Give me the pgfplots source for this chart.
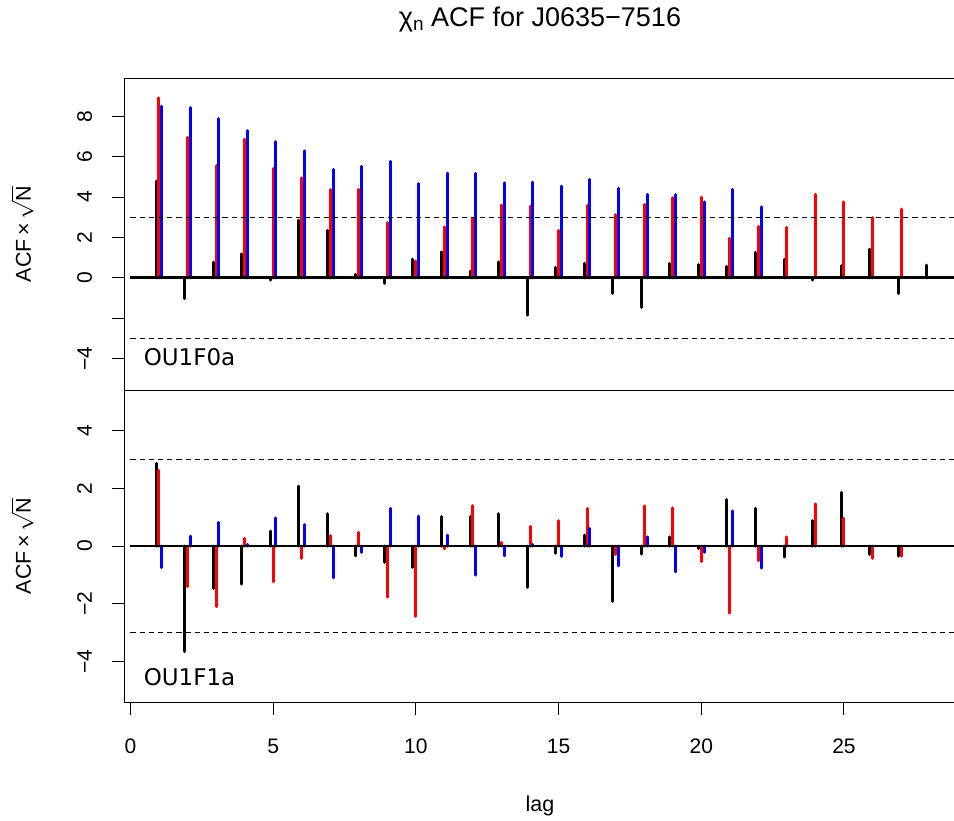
\documentclass[border=0pt]{standalone}
\usepackage{fontspec}
\setmainfont{Liberation Sans}
\newfontfamily\panelfont{DejaVu Sans}
\usepackage{pgfplots}
\pgfplotsset{compat=1.18}
\usepackage{pgfplotstable}

% ACF x sqrt(N) per lag: black, red and blue series for each model
\pgfplotstableread{
lag black red blue
1   4.80  8.93  8.52
2  -1.04  6.96  8.44
3   0.78  5.56  7.89
4   1.19  6.88  7.30
5  -0.12  5.43  6.75
6   2.86  4.95  6.30
7   2.35  4.37  5.38
8   0.17  4.38  5.53
9  -0.28  2.73  5.77
10  0.93  0.84  4.67
11  1.29  2.53  5.19
12  0.33  2.96  5.18
13  0.79  3.61  4.71
14 -1.85  3.56  4.75
15  0.51  2.35  4.55
16  0.71  3.59  4.88
17 -0.78  3.13  4.43
18 -1.47  3.64  4.14
19  0.71  3.97  4.12
20  0.65  4.00  3.77
21  0.56  1.97  4.38
22  1.26  2.55  3.52
23  0.91  2.50  nan
24 -0.12  4.14  nan
25  0.60  3.76  nan
26  1.42  2.98  nan
27 -0.79  3.41  nan
28  0.63  nan   nan
}\topdata

\pgfplotstableread{
lag black red blue
1   2.87  2.62 -0.75
2  -3.66 -1.41  0.34
3  -1.47 -2.10  0.82
4  -1.32  0.27  0.06
5   0.52 -1.24  0.98
6   2.08 -0.43  0.74
7   1.12  0.36 -1.10
8  -0.34  0.47 -0.22
9  -0.57 -1.77  1.31
10 -0.74 -2.44  1.04
11  1.02 -0.10  0.38
12  1.02  1.40 -1.01
13  1.12  0.13 -0.34
14 -1.43  0.68  0.06
15 -0.25  0.88 -0.36
16  0.38  1.31  0.61
17 -1.92 -0.30 -0.69
18 -0.28  1.39  0.32
19  0.32  1.32 -0.90
20 -0.09 -0.54 -0.22
21  1.61 -2.33  1.22
22  1.31 -0.51 -0.77
23 -0.38  0.32  nan
24  0.88  1.46  nan
25  1.86  0.97  nan
26 -0.29 -0.43  nan
27 -0.35 -0.35  nan
}\botdata

\pgfplotsset{
  acfpanel/.style={
    scale only axis, width=415pt, height=156pt,
    xmin=-0.19, xmax=28.89,
    clip=false,
    axis line style={line width=0.5pt},
    tick align=outside, ytick pos=left, xtick pos=left,
    major tick length=6.5pt,
    tick style={line width=0.5pt, black},
    yticklabel style={xshift=-10pt, rotate=90, anchor=base,
      font=\fontsize{10.5}{12}\selectfont},
    xticklabel style={anchor=base, yshift=-19pt,
      font=\fontsize{10.5}{12}\selectfont},
  },
  comb/.style={ycomb, no markers, line width=1.5pt, line cap=round},
  zeroline/.style={black, line width=1.4pt},
  bound/.style={black, line width=0.5pt, dash pattern=on 2.6pt off 2pt},
}
\tikzset{
  acflabel/.style={rotate=90, anchor=base, inner sep=0pt,
    font=\fontsize{10.75}{13}\selectfont},
}

\begin{document}
\begin{tikzpicture}
% upper panel
\begin{axis}[acfpanel, at={(0,0)}, anchor=south west,
  ymin=-5.57, ymax=9.91,
  xtick=\empty,
  ytick={-4,-2,0,2,4,6,8},
  yticklabels={−4,,0,2,4,6,8},
]
  \addplot[comb, black] table[x expr=\thisrow{lag}-0.1, y=black] {\topdata};
  \addplot[comb, red]   table[x=lag, y=red] {\topdata};
  \addplot[comb, blue]  table[x expr=\thisrow{lag}+0.1, y=blue] {\topdata};
  \addplot[zeroline] coordinates {(0,0) (28.89,0)};
  \addplot[bound] coordinates {(0,3) (28.89,3)};
  \addplot[bound] coordinates {(0,-3) (28.89,-3)};
  \node[anchor=base west, font=\panelfont\fontsize{11.5}{13}\selectfont]
    at ([xshift=5.85pt,yshift=12.5pt]rel axis cs:0,0) {OU1F0a};
  \node[acflabel] at ([xshift=-47pt]rel axis cs:0,0.5)
    {ACF\,×\,$\sqrt{\mbox{N}}$};
  \node[anchor=base, font=\fontsize{13.5}{16}\selectfont]
    at ([yshift=26pt]rel axis cs:0.5,1)
    {χ\raisebox{-0.35ex}{\fontsize{9.5}{11}\selectfont n} ACF for J0635−7516};
  \coordinate (TR) at (rel axis cs:1,1);
\end{axis}
% lower panel
\begin{axis}[acfpanel, at={(0,0)}, anchor=north west,
  ymin=-5.41, ymax=5.41,
  xtick={0,5,10,15,20,25},
  xticklabels={0,5,10,15,20,25},
  ytick={-4,-2,0,2,4},
  yticklabels={−4,−2,0,2,4},
]
  \addplot[comb, black] table[x expr=\thisrow{lag}-0.1, y=black] {\botdata};
  \addplot[comb, red]   table[x=lag, y=red] {\botdata};
  \addplot[comb, blue]  table[x expr=\thisrow{lag}+0.1, y=blue] {\botdata};
  \addplot[zeroline] coordinates {(0,0) (28.89,0)};
  \addplot[bound] coordinates {(0,3) (28.89,3)};
  \addplot[bound] coordinates {(0,-3) (28.89,-3)};
  \node[anchor=base west, font=\panelfont\fontsize{11.5}{13}\selectfont]
    at ([xshift=5.85pt,yshift=8.5pt]rel axis cs:0,0) {OU1F1a};
  \node[acflabel] at ([xshift=-47pt]rel axis cs:0,0.5)
    {ACF\,×\,$\sqrt{\mbox{N}}$};
  \node[anchor=base, font=\fontsize{10.75}{13}\selectfont]
    at ([yshift=-54.85pt]rel axis cs:0.5,0) {lag};
  \coordinate (BL) at (rel axis cs:0,0);
\end{axis}
\pgfresetboundingbox
\path[use as bounding box] ([xshift=-62.5pt,yshift=-59pt]BL) rectangle ([xshift=-0.5pt,yshift=39pt]TR);
\end{tikzpicture}
\end{document}
